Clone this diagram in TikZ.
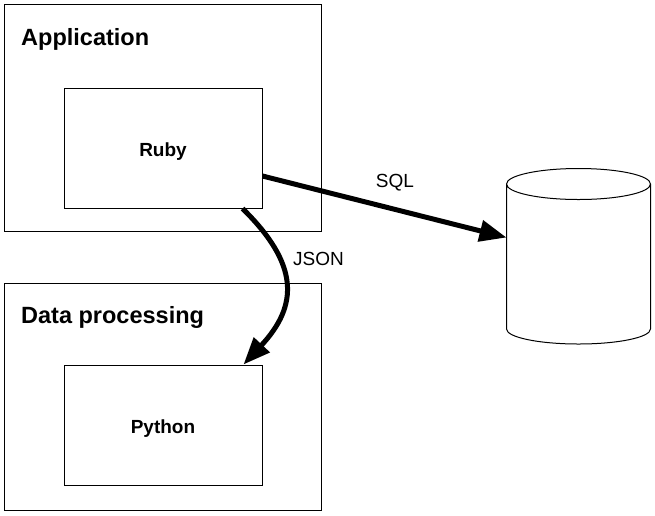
\documentclass[tikz,border=0pt]{standalone}
\usepackage{fontspec}
\setmainfont{Liberation Sans}
\usetikzlibrary{arrows.meta,calc}
\begin{document}
\begin{tikzpicture}[x=1pt,y=-1pt,
  box/.style={draw=black,line width=1pt,rectangle,inner sep=0pt,anchor=center},
  title/.style={font=\fontsize{23.5}{28}\selectfont\bfseries,anchor=base west,inner sep=0pt},
  inner/.style={font=\fontsize{19}{23}\selectfont\bfseries,anchor=base,inner sep=0pt},
  lbl/.style={font=\fontsize{19}{23}\selectfont,anchor=base,inner sep=0pt},
  conn/.style={line width=5pt,-{Triangle[length=27pt,width=21pt]}}]
\useasboundingbox (0,0) rectangle (655,515);
\node[box,minimum width=317pt,minimum height=226.5pt] (app) at (163,117.75) {};
\node[box,minimum width=198pt,minimum height=120pt] (ruby) at (163,148) {};
\node[box,minimum width=317pt,minimum height=226.5pt] (data) at (163,396.75) {};
\node[box,minimum width=198pt,minimum height=120pt] (python) at (163,425) {};
\node[title] (apptxt) at (21,45) {Application};
\node[title] (datatxt) at (21,323.5) {Data processing};
\node[inner] (rubytxt) at (163,156.5) {Ruby};
\node[inner] (pytxt) at (163,433.5) {Python};
% database cylinder
\draw[line width=1pt] (506.5,184) arc[start angle=180,end angle=360,x radius=72pt,y radius=15.5pt]
  arc[start angle=0,end angle=180,x radius=72pt,y radius=15.5pt]
  -- (506.5,329) arc[start angle=180,end angle=360,x radius=72pt,y radius=15pt] -- (650.5,184);
\coordinate (db) at (506.5,237.5);
\draw[conn] ([yshift=-28pt]ruby.east) -- (db);
\draw[conn] ([xshift=-20pt]ruby.south east) .. controls (299,264) and (299,305) .. ([xshift=-19pt]python.north east);
\node[lbl] (sql) at (395,187.5) {SQL};
\node[lbl] (json) at (318.5,265) {JSON};
\end{tikzpicture}
\end{document}
